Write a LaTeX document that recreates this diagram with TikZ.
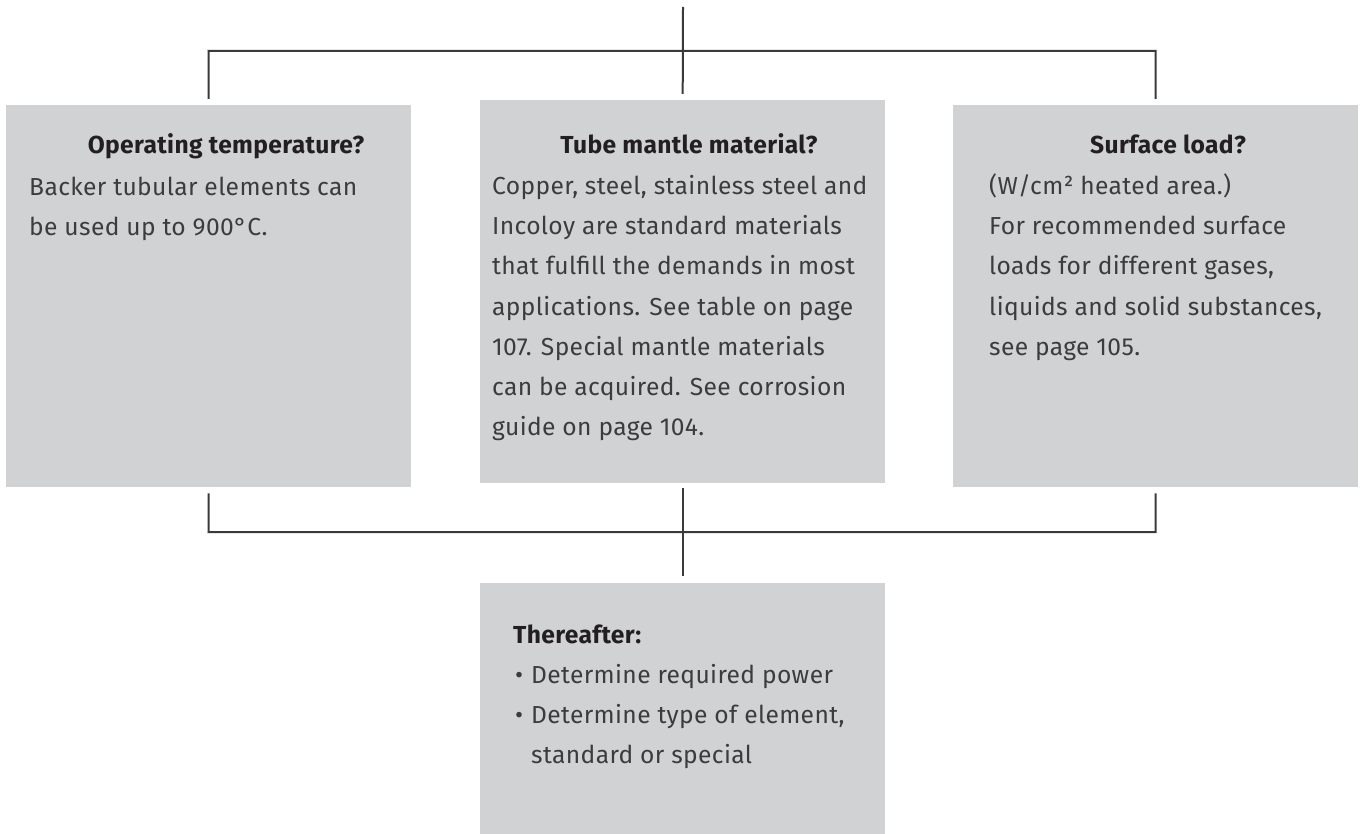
\documentclass[tikz,border=0pt]{standalone}
\usepackage{fontspec}
\setmainfont{Fira Sans}[LetterSpace=1.5]
\definecolor{boxgray}{HTML}{D1D2D4}
\definecolor{bodycol}{HTML}{3C3C3C}
\definecolor{titlecol}{HTML}{231F20}
\definecolor{linecol}{HTML}{3A3A3A}
\begin{document}
\begin{tikzpicture}[x=1pt,y=-1pt,
  box/.style={fill=boxgray, draw=none, minimum width=405pt, anchor=north west, inner sep=0pt},
  bodytxt/.style={anchor=base west, inner sep=0pt, text=bodycol, font=\fontsize{24.6}{28}\selectfont},
  titletxt/.style={anchor=base, inner sep=0pt, text=titlecol, font=\fontsize{24.6}{28}\selectfont\bfseries},
  conn/.style={draw=linecol, line width=2pt}]
\useasboundingbox (0,0) rectangle (1362,834);
% boxes
\node[box, minimum height=382pt] (b1) at (6,105) {};
\node[box, minimum height=383pt] (b2) at (480,100) {};
\node[box, minimum height=382pt] (b3) at (953,105) {};
\node[box, minimum height=251pt] (b4) at (480,583) {};
% connectors
\coordinate (topend) at (683,7);
\coordinate (hl) at (208.5,51);
\coordinate (hr) at (1155.5,51);
\coordinate (bl) at (208.5,532);
\coordinate (br) at (1155.5,532);
\draw[conn] (topend) -- ([yshift=6pt]b2.north);
\draw[conn] ([yshift=6pt]b1.north) -- (hl) -- (hr) -- ([yshift=6pt]b3.north);
\draw[conn] ([yshift=-6pt]b1.south) -- (bl) -- (br) -- ([yshift=-6pt]b3.south);
\draw[conn] ([yshift=-5pt]b2.south) -- ([yshift=7pt]b4.north);
% box 1
\node[titletxt] (t1) at (226,154) {Operating temperature?};
\node[bodytxt] (t1a) at (29,196) {Backer tubular elements can};
\node[bodytxt] (t1b) at (29,236) {be used up to 900°C.};
% box 2
\node[titletxt] (t2) at (689,154) {Tube mantle material?};
\node[bodytxt] (t2a) at (492,195) {Copper, steel, stainless steel and};
\node[bodytxt] (t2b) at (492,235) {Incoloy are standard materials};
\node[bodytxt] (t2c) at (492,275) {that fulfill the demands in most};
\node[bodytxt] (t2d) at (492,315) {applications. See table on page};
\node[bodytxt] (t2e) at (492,355) {107. Special mantle materials};
\node[bodytxt] (t2f) at (492,395) {can be acquired. See corrosion};
\node[bodytxt] (t2g) at (492,435) {guide on page 104.};
% box 3
\node[titletxt] (t3) at (1168,154) {Surface load?};
\node[bodytxt] (t3a) at (989,195) {(W/cm² heated area.)};
\node[bodytxt] (t3b) at (989,235) {For recommended surface};
\node[bodytxt] (t3c) at (989,275) {loads for different gases,};
\node[bodytxt] (t3d) at (989,315) {liquids and solid substances,};
\node[bodytxt] (t3e) at (989,355) {see page 105.};
% box 4
\node[titletxt, anchor=base west] (t4) at (513,643) {Thereafter:};
\node[bodytxt] (u1) at (515,683) {•};
\node[bodytxt] (t4a) at (531,683) {Determine required power};
\node[bodytxt] (u2) at (515,723) {•};
\node[bodytxt] (t4b) at (531,723) {Determine type of element,};
\node[bodytxt] (t4c) at (531,763) {standard or special};
\end{tikzpicture}
\end{document}
